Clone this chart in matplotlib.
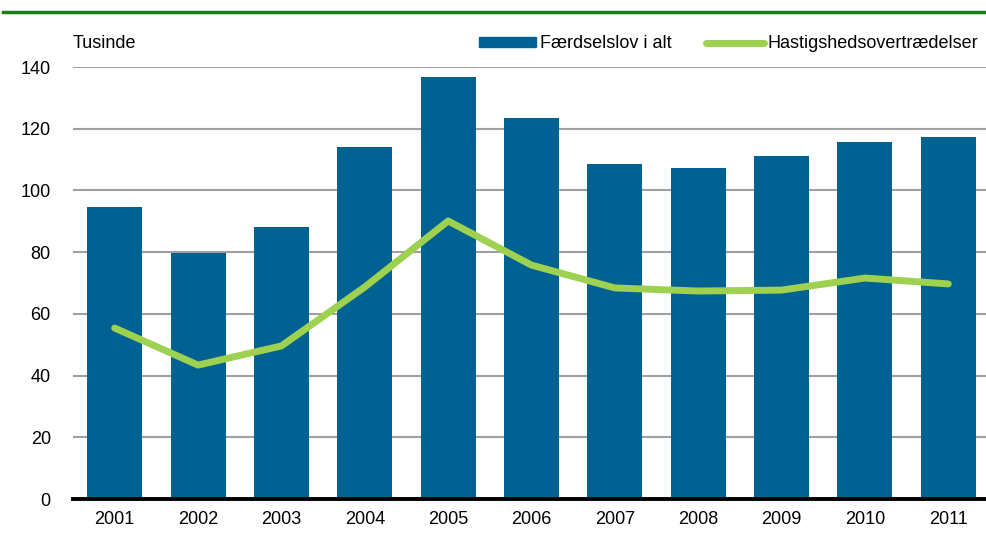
import matplotlib
matplotlib.use("Agg")
import matplotlib.pyplot as plt
from matplotlib.lines import Line2D
from matplotlib.patches import Patch
import numpy as np

years = ["2001", "2002", "2003", "2004", "2005", "2006", "2007", "2008", "2009", "2010", "2011"]
faerdselslov = [94.6, 79.7, 88.1, 114.1, 136.7, 123.5, 108.6, 107.3, 111.1, 115.7, 117.3]
hastighed = [55.4, 43.4, 49.6, 68.7, 90.1, 75.8, 68.4, 67.4, 67.7, 71.6, 69.7]
yticks = [0, 20, 40, 60, 80, 100, 120, 140]

plt.rcParams['font.family'] = ['Liberation Sans Narrow', 'Liberation Sans', 'DejaVu Sans']

W, H = 987, 537
fig = plt.figure(figsize=(W/100, H/100), dpi=100)
ax = fig.add_axes([73/W, 1-499/H, 1-70/W, (499-67)/H])

blue = '#006193'
green = '#9dd14f'
x = np.arange(len(years))
ax.bar(x, faerdselslov, width=0.66, color=blue, zorder=3)
ax.plot(x, hastighed, color=green, lw=5, solid_capstyle='round', solid_joinstyle='round', zorder=4)

ax.set_xlim(-0.5, len(years)-0.5)
ax.set_ylim(0, 140)
ax.set_yticks(yticks)
ax.set_yticklabels([str(v) for v in yticks], fontsize=13)
ax.set_xticks(x)
ax.set_xticklabels(years, fontsize=13)
ax.tick_params(axis='both', length=0)
ax.tick_params(axis='y', pad=16)
ax.tick_params(axis='x', pad=9)
for v in yticks[1:]:
    ax.axhline(v, color='#a0a0a0', lw=1.5, zorder=1)
for s in ['top', 'right', 'left']:
    ax.spines[s].set_visible(False)
ax.spines['bottom'].set_linewidth(2.8)
ax.spines['bottom'].set_color('black')
ax.spines['bottom'].set_zorder(5)

fig.text(73/W, 1-44/H, 'Tusinde', fontsize=13, va='center', ha='left')

handles = [Patch(color=blue), Line2D([0], [0], color=green, lw=5, solid_capstyle='round')]
leg = fig.legend(handles, ['Færdselslov i alt', 'Hastigshedsovertrædelser'], ncol=2,
                 loc='center right', bbox_to_anchor=(978/W, 1-44/H), frameon=False,
                 fontsize=13, handlelength=3.2, handleheight=0.5, handletextpad=0.2,
                 columnspacing=1.9, borderpad=0, borderaxespad=0)

fig.add_artist(Line2D([3/W, 1], [1-12/H, 1-12/H], color='#1a7f1a', lw=2.5, transform=fig.transFigure))

fig.savefig('out.png', dpi=100)
